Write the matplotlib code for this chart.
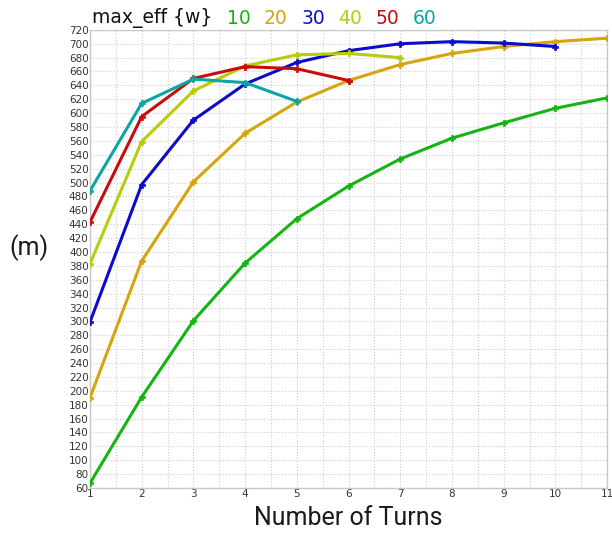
import matplotlib
matplotlib.use("Agg")
import matplotlib.pyplot as plt
import numpy as np
from matplotlib.ticker import MultipleLocator

# max_eff curves, one per power setting {w}
series_names = ["10", "20", "30", "40", "50", "60"]
series_colors = ["#14b414", "#d6a40c", "#0c0cc8", "#b8cc0c", "#c80c0c", "#0ca4a4"]

turns_10 = [1, 2, 3, 4, 5, 6, 7, 8, 9, 10, 11]
eff_10 = [67, 191, 301, 384, 448, 495, 534, 564, 586, 607, 622]

turns_20 = [1, 2, 3, 4, 5, 6, 7, 8, 9, 10, 11]
eff_20 = [190, 387, 501, 571, 616, 647, 670, 686, 696, 703, 708]

turns_30 = [1, 2, 3, 4, 5, 6, 7, 8, 9, 10]
eff_30 = [299, 497, 590, 642, 673, 690, 700, 703, 701, 696]

turns_40 = [1, 2, 3, 4, 5, 6, 7]
eff_40 = [383, 559, 632, 668, 684, 686, 680]

turns_50 = [1, 2, 3, 4, 5, 6]
eff_50 = [443, 595, 650, 667, 664, 647]

turns_60 = [1, 2, 3, 4, 5]
eff_60 = [488, 614, 649, 644, 617]

all_turns = [turns_10, turns_20, turns_30, turns_40, turns_50, turns_60]
all_eff = [eff_10, eff_20, eff_30, eff_40, eff_50, eff_60]

fig = plt.figure(figsize=(6.12, 5.33), dpi=100)
ax = fig.add_axes([0.147, 0.0844, 0.845, 0.8596])

for x, y, c in zip(all_turns, all_eff, series_colors):
    ax.plot(x, y, color=c, lw=2.2, marker="P", markersize=5,
            markeredgewidth=0.5, zorder=3)

ax.set_xlim(1, 11)
ax.set_ylim(60, 720)
ax.xaxis.set_major_locator(MultipleLocator(1))
ax.xaxis.set_minor_locator(MultipleLocator(0.5))
ax.yaxis.set_major_locator(MultipleLocator(20))
ax.grid(which="both", color="#cccccc", linestyle=":", linewidth=0.8)
ax.tick_params(which="both", length=0, pad=1, labelsize=7.5, colors="#333333")
for s in ax.spines.values():
    s.set_color("#c8c8c8")
    s.set_linewidth(1.0)

ax.set_xlabel("Number of Turns", family="Roboto", fontsize=18,
              color="#1a1a1a", labelpad=5)
fig.text(0.047, 0.535, "(m)", family="Roboto", fontsize=18,
         color="#1a1a1a", ha="center", va="center")

# legend-style title: label followed by coloured series names
fig.canvas.draw()
renderer = fig.canvas.get_renderer()
x0 = 0.150
y0 = 0.948
pieces = [("max_eff {w}", "#111111")] + list(zip(series_names, series_colors))
for i, (txt, col) in enumerate(pieces):
    t = fig.text(x0, y0, txt, fontsize=13.5, color=col, ha="left", va="bottom",
                 bbox=dict(facecolor="white", edgecolor="none", pad=1.5))
    bb = t.get_window_extent(renderer)
    x0 += bb.width / fig.bbox.width + (0.024 if i == 0 else 0.022)

fig.savefig("out.png", dpi=100)
